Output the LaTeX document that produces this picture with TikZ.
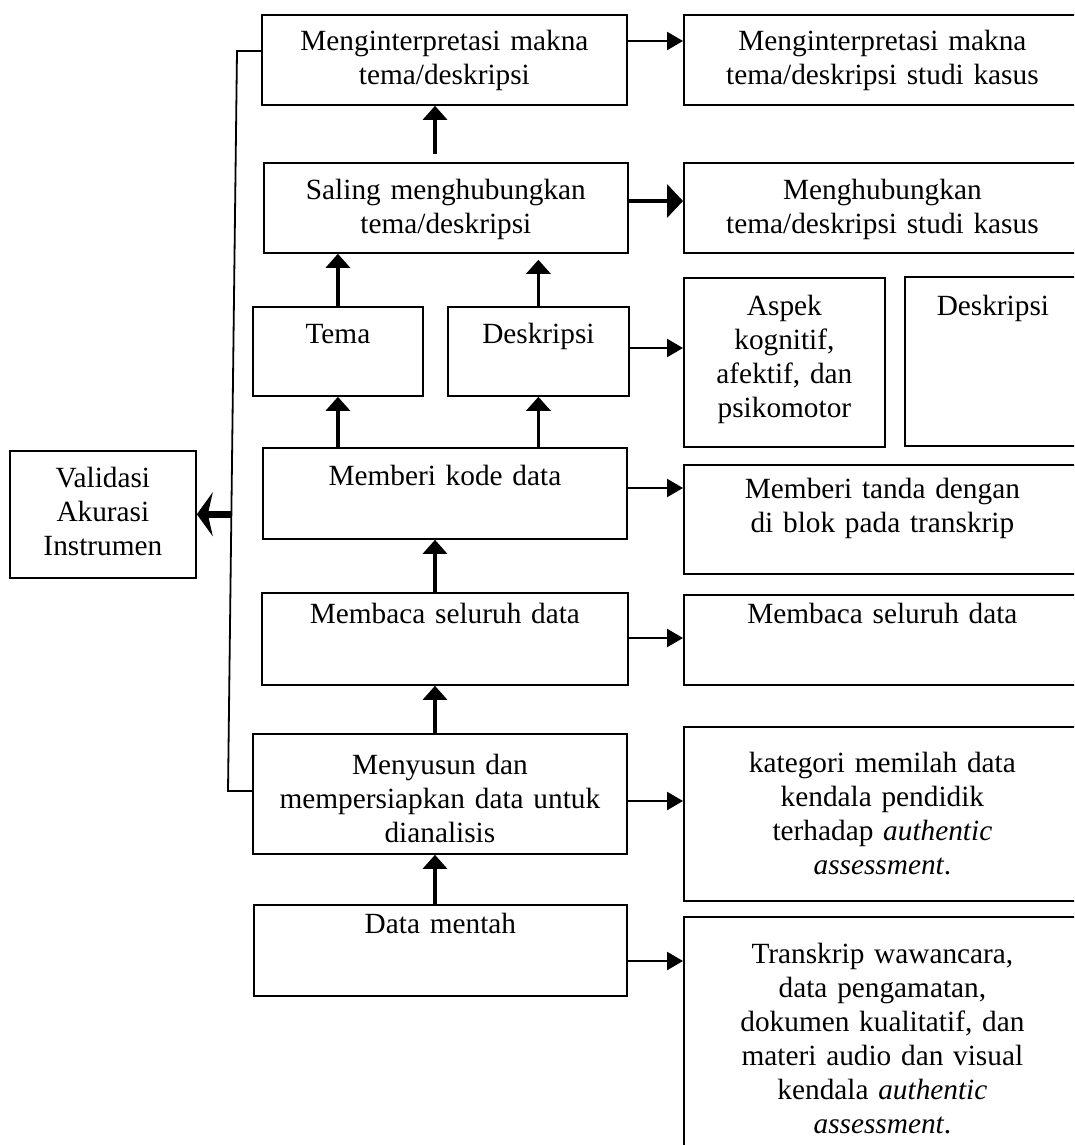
\documentclass[tikz,border=0pt]{standalone}
\usepackage{fontspec}
\setmainfont{Liberation Serif}
\usetikzlibrary{arrows.meta,calc}

\tikzset{every picture/.style={line width=1.8pt}}
\tikzset{
  box/.style={draw, rectangle, inner sep=0pt, anchor=north west},
  txt/.style={font=\fontsize{29.3}{34}\selectfont, align=center, text width=420pt, inner sep=0pt, anchor=base},
  uparr/.style={line width=3.2pt, -{Triangle[length=14pt,width=24pt]}},
  rarr/.style={line width=2.4pt, -{Triangle[length=16pt,width=18pt]}},
  bigrarr/.style={line width=4.5pt, -{Triangle[length=16pt,width=33pt]}},
  valarr/.style={line width=7pt, -{Stealth[length=16pt,width=44pt,inset=5pt]}}
}

\begin{document}
\begin{tikzpicture}[x=1pt,y=1pt,yscale=-1,xscale=1]
\useasboundingbox (0,0) rectangle (1074,1145);
\clip (0,0) rectangle (1074,1145);

%Shape: Rectangle [left column]
\node[box, minimum width=365, minimum height=90] (interp) at (261,14) {};
\node[box, minimum width=364, minimum height=90] (hubung) at (263,162) {};
\node[box, minimum width=170, minimum height=89] (tema) at (252,306) {};
\node[box, minimum width=181, minimum height=89] (desk) at (447,306) {};
\node[box, minimum width=364, minimum height=91] (kode) at (262,447) {};
\node[box, minimum width=366, minimum height=92] (baca) at (261,592) {};
\node[box, minimum width=374, minimum height=120] (susun) at (252,733) {};
\node[box, minimum width=373, minimum height=91] (mentah) at (253,904) {};
%Shape: Rectangle [validasi]
\node[box, minimum width=186, minimum height=127] (valid) at (9,450) {};
%Shape: Rectangle [right column]
\node[box, minimum width=397, minimum height=90] (rinterp) at (683,14) {};
\node[box, minimum width=397, minimum height=90] (rhubung) at (683,162) {};
\node[box, minimum width=201, minimum height=169] (aspek) at (683,277) {};
\node[box, minimum width=176, minimum height=169] (rdesk) at (904,276) {};
\node[box, minimum width=397, minimum height=109] (tanda) at (683,464) {};
\node[box, minimum width=397, minimum height=90] (rbaca) at (683,594) {};
\node[box, minimum width=397, minimum height=174] (kategori) at (683,726) {};
\node[box, minimum width=397, minimum height=240] (transkrip) at (683,916) {};

%Straight Lines [spine arrows]
\coordinate (spine) at (435,0);
\draw[uparr, shorten <=8pt] (hubung.north -| spine) -- (interp.south -| spine);
\draw[uparr] (tema.north) -- (tema.north |- hubung.south);
\draw[uparr, shorten >=6pt] (desk.north) -- (desk.north |- hubung.south);
\draw[uparr] (kode.north -| tema.north) -- (tema.south);
\draw[uparr] (kode.north -| desk.north) -- (desk.south);
\draw[uparr] (baca.north -| spine) -- (kode.south -| spine);
\draw[uparr] (susun.north -| spine) -- (baca.south -| spine);
\draw[uparr] (mentah.north -| spine) -- (susun.south -| spine);

%Straight Lines [to right column]
\draw[rarr] (interp.east |- 0,41) -- (rinterp.west |- 0,41);
\draw[bigrarr] (hubung.east |- 0,201) -- (rhubung.west |- 0,201);
\draw[rarr] (desk.east |- 0,348) -- (aspek.west |- 0,348);
\draw[rarr] (kode.east |- 0,488) -- (tanda.west |- 0,488);
\draw[rarr] (baca.east |- 0,638) -- (rbaca.west |- 0,638);
\draw[rarr] (susun.east |- 0,801) -- (kategori.west |- 0,801);
\draw[rarr] (mentah.east |- 0,961) -- (transkrip.west |- 0,961);

%Straight Lines [feedback line]
\coordinate (bend-top) at (237,51);
\coordinate (bend-bot) at (228,791);
\draw (interp.west |- bend-top) -- (bend-top) -- (bend-bot) -- (susun.west |- bend-bot);
\coordinate (tap) at ($(bend-top)!0.626!(bend-bot)$);
\draw[valarr] (tap) -- (valid.east |- tap);

% Text Node
\node[txt] (interp-t) at (interp.north |- 0,51) {Menginterpretasi makna\\tema/deskripsi};
% Text Node
\node[txt] (hubung-t) at (hubung.north |- 0,199) {Saling menghubungkan\\tema/deskripsi};
% Text Node
\node[txt] (tema-t) at (tema.north |- 0,343) {Tema};
% Text Node
\node[txt] (desk-t) at (desk.north |- 0,343) {Deskripsi};
% Text Node
\node[txt] (kode-t) at (kode.north |- 0,485) {Memberi kode data};
% Text Node
\node[txt] (baca-t) at (baca.north |- 0,623) {Membaca seluruh data};
% Text Node
\node[txt] (susun-t) at (susun.north |- 0,774) {Menyusun dan\\mempersiapkan data untuk\\dianalisis};
% Text Node
\node[txt] (mentah-t) at (mentah.north |- 0,933) {Data mentah};
% Text Node
\node[txt] (valid-t) at (valid.north |- 0,487) {Validasi\\Akurasi\\Instrumen};
% Text Node
\node[txt] (rinterp-t) at (rinterp.north |- 0,51) {Menginterpretasi makna\\tema/deskripsi studi kasus};
% Text Node
\node[txt] (rhubung-t) at (rhubung.north |- 0,199) {Menghubungkan\\tema/deskripsi studi kasus};
% Text Node
\node[txt] (aspek-t) at (aspek.north |- 0,315) {Aspek\\kognitif,\\afektif, dan\\psikomotor};
% Text Node
\node[txt] (rdesk-t) at (rdesk.north |- 0,315) {Deskripsi};
% Text Node
\node[txt] (tanda-t) at (tanda.north |- 0,498) {Memberi tanda dengan\\di blok pada transkrip};
% Text Node
\node[txt] (rbaca-t) at (rbaca.north |- 0,623) {Membaca seluruh data};
% Text Node
\node[txt] (kategori-t) at (kategori.north |- 0,772) {kategori memilah data\\kendala pendidik\\terhadap \textit{authentic}\\\textit{assessment}.};
% Text Node
\node[txt] (transkrip-t) at (transkrip.north |- 0,963) {Transkrip wawancara,\\data pengamatan,\\dokumen kualitatif, dan\\materi audio dan visual\\kendala \textit{authentic}\\\textit{assessment}.};

\end{tikzpicture}
\end{document}
